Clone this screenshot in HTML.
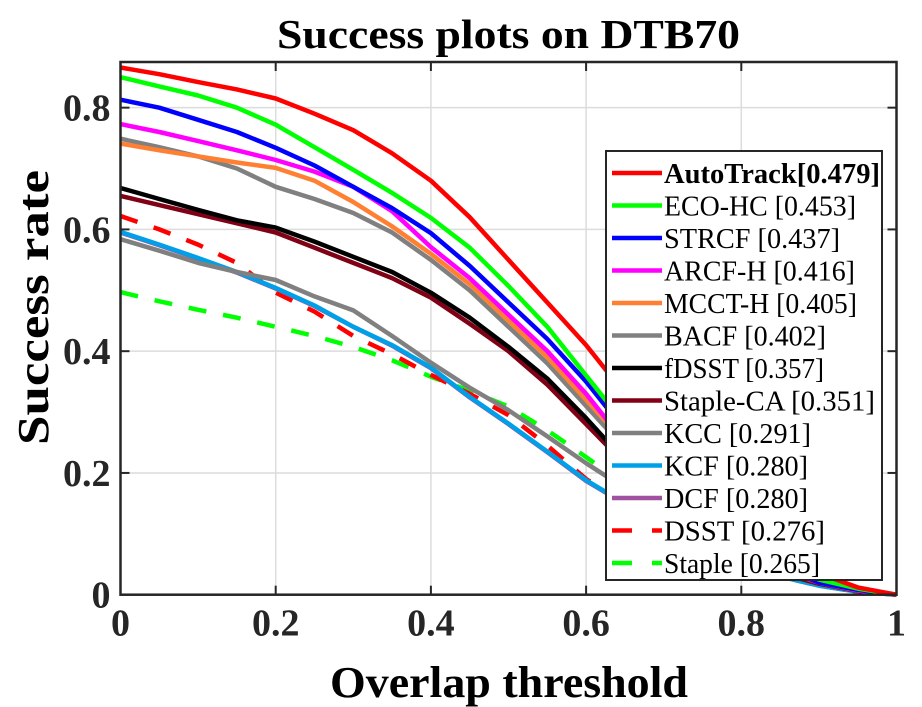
<!DOCTYPE html>
<html><head><meta charset="utf-8">
<style>
html,body{margin:0;padding:0;background:#fff;}
svg{display:block;}
svg text{font-family:"Liberation Serif","Times New Roman","DejaVu Serif",serif;}
</style></head>
<body>
<svg id="chart" width="922" height="707">
<g id="grid"></g>
<g id="series"></g>
<g id="axes"></g>
<text x="277" y="48" textLength="463" lengthAdjust="spacingAndGlyphs" font-size="41" font-weight="bold">Success plots on DTB70</text>
<text x="330" y="697" textLength="358" lengthAdjust="spacingAndGlyphs" font-size="44" font-weight="bold">Overlap threshold</text>
<text transform="translate(48,445) rotate(-90)" textLength="275" lengthAdjust="spacingAndGlyphs" font-size="44" font-weight="bold">Success rate</text>
<g id="legend"></g>
</svg>
<script>
const xValues = [0,0.05,0.1,0.15,0.2,0.25,0.3,0.35,0.4,0.45,0.5,0.55,0.6,0.65,0.7,0.75,0.8,0.85,0.9,0.95,1];
const xTicks = [0,0.2,0.4,0.6,0.8,1];
const xTickLabels = ["0","0.2","0.4","0.6","0.8","1"];
const yTicks = [0,0.2,0.4,0.6,0.8];
const yTickLabels = ["0","0.2","0.4","0.6","0.8"];
const seriesNames = ["AutoTrack[0.479]","ECO-HC [0.453]","STRCF [0.437]","ARCF-H [0.416]","MCCT-H [0.405]","BACF [0.402]","fDSST [0.357]","Staple-CA [0.351]","KCC [0.291]","KCF [0.280]","DCF [0.280]","DSST [0.276]","Staple [0.265]"];
const autoTrack = [0.866,0.855,0.842,0.83,0.815,0.79,0.763,0.725,0.68,0.62,0.55,0.48,0.41,0.33,0.25,0.18,0.12,0.07,0.035,0.012,0];
const ecoHC = [0.85,0.835,0.82,0.80,0.772,0.735,0.698,0.66,0.619,0.57,0.507,0.44,0.36,0.28,0.2,0.14,0.09,0.05,0.025,0.01,0];
const strcf = [0.813,0.80,0.78,0.76,0.734,0.705,0.67,0.635,0.594,0.54,0.48,0.42,0.35,0.27,0.19,0.13,0.08,0.045,0.02,0.008,0];
const arcfH = [0.773,0.76,0.745,0.73,0.714,0.695,0.67,0.63,0.571,0.52,0.46,0.40,0.33,0.25,0.18,0.12,0.075,0.04,0.02,0.007,0];
const mcctH = [0.741,0.73,0.72,0.71,0.701,0.68,0.645,0.605,0.56,0.51,0.45,0.39,0.32,0.25,0.18,0.12,0.075,0.04,0.02,0.007,0];
const bacf = [0.749,0.735,0.72,0.70,0.67,0.65,0.627,0.595,0.55,0.50,0.44,0.38,0.31,0.24,0.17,0.115,0.07,0.04,0.02,0.007,0];
const fdsst = [0.668,0.65,0.632,0.615,0.603,0.58,0.555,0.53,0.496,0.455,0.407,0.355,0.29,0.22,0.16,0.11,0.07,0.04,0.02,0.007,0];
const stapleCA = [0.655,0.64,0.625,0.61,0.595,0.57,0.545,0.52,0.488,0.445,0.40,0.345,0.28,0.215,0.155,0.105,0.065,0.035,0.018,0.006,0];
const kcc = [0.584,0.565,0.545,0.53,0.517,0.49,0.467,0.425,0.381,0.34,0.303,0.26,0.216,0.175,0.13,0.09,0.06,0.035,0.018,0.006,0];
const kcf = [0.596,0.575,0.553,0.53,0.504,0.475,0.44,0.41,0.373,0.325,0.281,0.235,0.188,0.15,0.11,0.075,0.05,0.03,0.015,0.005,0];
const dcf = [0.595,0.574,0.552,0.529,0.503,0.474,0.44,0.409,0.372,0.324,0.28,0.234,0.187,0.149,0.109,0.074,0.05,0.03,0.015,0.005,0];
const dsst = [0.622,0.60,0.575,0.545,0.496,0.465,0.425,0.395,0.361,0.33,0.295,0.245,0.19,0.15,0.11,0.075,0.05,0.03,0.015,0.005,0];
const staple = [0.497,0.482,0.468,0.455,0.44,0.425,0.407,0.385,0.358,0.335,0.309,0.27,0.226,0.18,0.13,0.09,0.06,0.035,0.018,0.006,0];

const NS="http://www.w3.org/2000/svg";
const L=120.5,R=896.5,T=62,B=594.7,YMAX=0.875;
function sx(v){return L+v*(R-L);}
function sy(v){return B-v/YMAX*(B-T);}
function mk(tag,attrs,parent){const e=document.createElementNS(NS,tag);for(const k in attrs)e.setAttribute(k,attrs[k]);parent.appendChild(e);return e;}
const grid=document.getElementById('grid'),axes=document.getElementById('axes'),ser=document.getElementById('series'),leg=document.getElementById('legend');
mk('rect',{x:L,y:T,width:R-L,height:B-T,fill:'#fff'},grid);
xTicks.forEach((t,i)=>{
  const g=mk('line',{x1:sx(t),x2:sx(t),y1:T,y2:B,stroke:'#dcdcdc','stroke-width':1.5},grid);
  
  
  mk('line',{x1:sx(t),x2:sx(t),y1:B,y2:B-9,stroke:'#262626','stroke-width':2},axes);
  mk('line',{x1:sx(t),x2:sx(t),y1:T,y2:T+9,stroke:'#262626','stroke-width':2},axes);
  const tx=mk('text',{x:sx(t),y:B+41,'text-anchor':'middle','font-size':38,'font-weight':'bold',fill:'#262626'},axes);
  tx.textContent=xTickLabels[i];
  
  
});
yTicks.forEach((t,i)=>{
  const g=mk('line',{x1:L,x2:R,y1:sy(t),y2:sy(t),stroke:'#dcdcdc','stroke-width':1.5},grid);
  
  
  mk('line',{x1:L,x2:L+9,y1:sy(t),y2:sy(t),stroke:'#262626','stroke-width':2},axes);
  mk('line',{x1:R,x2:R-9,y1:sy(t),y2:sy(t),stroke:'#262626','stroke-width':2},axes);
  const tx=mk('text',{x:L-10,y:sy(t)+13,'text-anchor':'end','font-size':38,'font-weight':'bold',fill:'#262626'},axes);
  tx.textContent=yTickLabels[i];
  
  
});
mk('rect',{x:L,y:T,width:R-L,height:B-T,fill:'none',stroke:'#262626','stroke-width':2.5},axes);

const seriesData=[autoTrack,ecoHC,strcf,arcfH,mcctH,bacf,fdsst,stapleCA,kcc,kcf,dcf,dsst,staple];
const colors=['#ff0000','#00ff00','#0000ff','#ff00ff','#ff8033','#808080','#000000','#800015','#808080','#00a0e8','#a050a0','#ff0000','#00ff00'];
const dashed=[false,false,false,false,false,false,false,false,false,false,false,true,true];
const legendWidths=[216,192,176,191,193,162,160,211,147,144,144,161,156];
const drawOrder=[12,11,10,9,8,7,6,5,4,3,2,1,0];
drawOrder.forEach(i=>{
  const d=seriesData[i].map((v,j)=>(j?'L':'M')+sx(xValues[j]).toFixed(1)+' '+sy(v).toFixed(1)).join(' ');
  const p=mk('path',{d:d,fill:'none',stroke:colors[i],'stroke-width':4.5,'stroke-linejoin':'round'},ser);
  if(dashed[i])p.setAttribute('stroke-dasharray','18 17');
  
  
});
const lx=606,ly=151,lw=276,lh=429;
mk('rect',{x:lx,y:ly,width:lw,height:lh,fill:'#fff',stroke:'#262626','stroke-width':2},leg);
seriesNames.forEach((n,i)=>{
  const y=ly+22+i*32.5;
  const ln=mk('line',{x1:lx+6,x2:lx+56,y1:y,y2:y,stroke:colors[i],'stroke-width':4.5},leg);
  if(dashed[i])ln.setAttribute('stroke-dasharray','20 20');
  
  
  const t=mk('text',{x:lx+58,y:y+10,'font-size':28,fill:'#000',textLength:legendWidths[i],lengthAdjust:'spacingAndGlyphs'},leg);
  if(i===0)t.setAttribute('font-weight','bold');
  t.textContent=n;
  
  
});
</script>
</body></html>
